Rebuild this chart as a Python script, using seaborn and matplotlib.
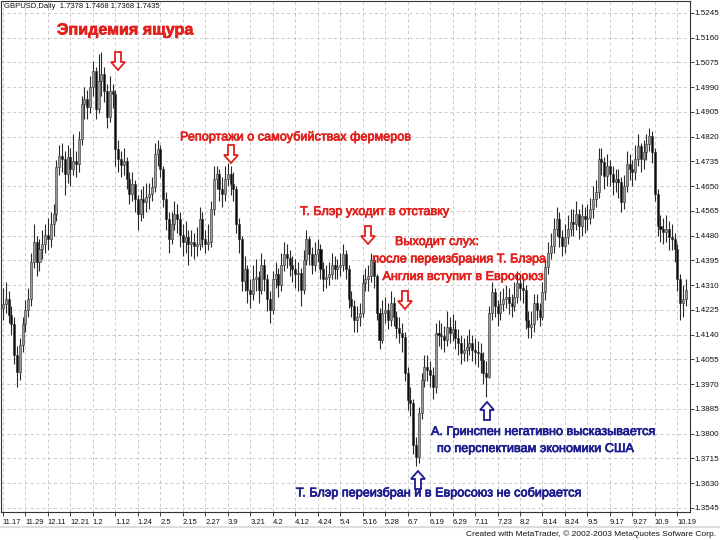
import matplotlib
matplotlib.use("Agg")
import matplotlib.pyplot as plt
from matplotlib.patches import Polygon
from matplotlib.lines import Line2D
import matplotlib.patheffects as pe
import numpy as np
import pandas as pd
import seaborn as sns

sns.set_theme(style="white")
plt.rcParams['font.family'] = ['Liberation Sans', 'DejaVu Sans']

# ---------------- data (prices in pips, /10000) ----------------
first_open = 14230
close_pips = [
    14244, 14261, 14209, 14175, 14071, 14013, 14106, 14175, 14226, 14261,
    14391, 14460, 14391, 14433, 14450, 14484, 14467, 14519, 14553, 14715,
    14753, 14742, 14691, 14749, 14708, 14736, 14725, 14811, 14932, 14949,
    14921, 14990, 15045, 14914, 15011, 15035, 14976, 14887, 14976, 14966,
    14777, 14742, 14722, 14736, 14674, 14622, 14656, 14605, 14553, 14605,
    14594, 14612, 14622, 14646, 14760, 14777, 14708, 14605, 14536, 14467,
    14519, 14553, 14536, 14484, 14460, 14474, 14450, 14457, 14443, 14453,
    14536, 14467, 14450, 14457, 14570, 14674, 14691, 14639, 14622, 14674,
    14691, 14656, 14639, 14519, 14467, 14323, 14364, 14295, 14278, 14330,
    14338, 14295, 14381, 14330, 14261, 14226, 14330, 14347, 14312, 14381,
    14416, 14405, 14381, 14364, 14347, 14352, 14295, 14398, 14467, 14416,
    14381, 14416, 14433, 14364, 14330, 14338, 14347, 14381, 14364, 14371,
    14381, 14416, 14364, 14261, 14237, 14192, 14199, 14216, 14319, 14330,
    14340, 14398, 14340, 14216, 14123, 14216, 14226, 14192, 14250, 14202,
    14164, 14147, 14133, 14010, 13917, 13906, 13762, 13721, 13872, 13985,
    14030, 14020, 14003, 13961, 14147, 14140, 14137, 14123, 14168, 14147,
    14158, 14130, 14113, 14078, 14089, 14099, 14113, 14089, 14082, 14078,
    14054, 14010, 13996, 14216, 14285, 14237, 14216, 14244, 14261, 14271,
    14250, 14237, 14271, 14319, 14302, 14295, 14192, 14168, 14175, 14250,
    14226, 14202, 14285, 14371, 14422, 14443, 14502, 14536, 14477, 14443,
    14474, 14502, 14526, 14520, 14553, 14512, 14546, 14536, 14540, 14570,
    14605, 14629, 14742, 14732, 14684, 14718, 14691, 14663, 14674, 14663,
    14594, 14650, 14725, 14708, 14698, 14742, 14787, 14742, 14767, 14794,
    14822, 14767, 14622, 14512, 14502, 14491, 14502, 14477, 14470, 14433,
    14330, 14250, 14261, 14295,
]
high_pips = [
    14300, 14320, 14290, 14240, 14200, 14100, 14130, 14200, 14260, 14300,
    14420, 14520, 14480, 14470, 14500, 14520, 14540, 14560, 14590, 14740,
    14790, 14800, 14770, 14790, 14780, 14830, 14770, 14840, 14960, 14990,
    14980, 15030, 15080, 15060, 15105, 15110, 15060, 15000, 15030, 15000,
    14980, 14810, 14770, 14780, 14750, 14700, 14700, 14670, 14620, 14640,
    14650, 14660, 14660, 14680, 14800, 14810, 14790, 14720, 14630, 14560,
    14560, 14600, 14590, 14560, 14520, 14530, 14500, 14500, 14490, 14510,
    14580, 14560, 14500, 14520, 14600, 14720, 14720, 14710, 14680, 14720,
    14730, 14720, 14700, 14650, 14540, 14480, 14410, 14380, 14330, 14380,
    14400, 14360, 14420, 14400, 14350, 14290, 14360, 14390, 14370, 14420,
    14460, 14450, 14430, 14410, 14400, 14390, 14370, 14430, 14500, 14480,
    14440, 14460, 14470, 14450, 14390, 14380, 14390, 14420, 14410, 14400,
    14420, 14450, 14430, 14380, 14290, 14260, 14240, 14250, 14350, 14370,
    14380, 14420, 14410, 14350, 14230, 14260, 14270, 14250, 14290, 14270,
    14220, 14200, 14180, 14150, 14030, 13960, 13920, 13790, 13890, 14010,
    14070, 14070, 14050, 14030, 14180, 14190, 14180, 14170, 14220, 14200,
    14210, 14190, 14160, 14140, 14130, 14140, 14160, 14140, 14130, 14120,
    14110, 14080, 14050, 14240, 14320, 14300, 14260, 14290, 14300, 14310,
    14300, 14280, 14320, 14360, 14350, 14340, 14310, 14220, 14220, 14280,
    14280, 14250, 14320, 14400, 14460, 14490, 14540, 14580, 14560, 14500,
    14520, 14550, 14570, 14570, 14600, 14570, 14590, 14580, 14590, 14610,
    14650, 14670, 14780, 14780, 14750, 14760, 14740, 14720, 14710, 14710,
    14680, 14690, 14770, 14760, 14740, 14790, 14830, 14800, 14810, 14830,
    14850, 14840, 14780, 14640, 14550, 14540, 14550, 14530, 14520, 14490,
    14450, 14350, 14310, 14330,
]
low_pips = [
    14190, 14215, 14180, 14140, 14040, 13960, 13985, 14080, 14150, 14200,
    14240, 14370, 14340, 14360, 14400, 14420, 14430, 14440, 14480, 14530,
    14690, 14700, 14620, 14660, 14650, 14690, 14680, 14700, 14790, 14880,
    14880, 14900, 14960, 14880, 14900, 14960, 14940, 14850, 14870, 14920,
    14720, 14700, 14680, 14690, 14640, 14590, 14600, 14560, 14500, 14530,
    14540, 14560, 14570, 14600, 14630, 14720, 14680, 14580, 14500, 14420,
    14450, 14500, 14490, 14440, 14410, 14420, 14380, 14410, 14400, 14410,
    14430, 14440, 14420, 14430, 14440, 14550, 14640, 14600, 14580, 14600,
    14650, 14620, 14600, 14490, 14420, 14290, 14290, 14250, 14230, 14260,
    14290, 14250, 14280, 14290, 14220, 14180, 14210, 14300, 14270, 14290,
    14360, 14370, 14340, 14320, 14300, 14290, 14240, 14280, 14380, 14380,
    14350, 14360, 14390, 14330, 14290, 14300, 14310, 14330, 14330, 14330,
    14340, 14360, 14330, 14230, 14200, 14150, 14150, 14170, 14200, 14290,
    14290, 14320, 14300, 14190, 14090, 14110, 14180, 14160, 14170, 14170,
    14130, 14110, 14080, 13980, 13880, 13860, 13730, 13690, 13700, 13850,
    13960, 13980, 13960, 13920, 13940, 14100, 14090, 14080, 14100, 14110,
    14120, 14090, 14070, 14040, 14050, 14050, 14070, 14050, 14040, 14030,
    14010, 13970, 13925, 13990, 14190, 14200, 14170, 14190, 14220, 14230,
    14210, 14200, 14220, 14250, 14260, 14250, 14160, 14130, 14130, 14150,
    14190, 14170, 14190, 14260, 14350, 14400, 14420, 14480, 14440, 14410,
    14420, 14450, 14480, 14480, 14500, 14470, 14480, 14490, 14500, 14520,
    14540, 14580, 14610, 14690, 14640, 14650, 14650, 14620, 14630, 14610,
    14560, 14570, 14630, 14670, 14650, 14670, 14720, 14700, 14710, 14740,
    14770, 14730, 14600, 14480, 14460, 14450, 14460, 14430, 14430, 14390,
    14290, 14190, 14200, 14240,
]
date_labels = ["11.17", "11.29", "12.11", "12.21", "1.2", "1.12", "1.24", "2.5",
               "2.15", "2.27", "3.9", "3.21", "4.2", "4.12", "4.24", "5.4",
               "5.16", "5.28", "6.7", "6.19", "6.29", "7.11", "7.23", "8.2",
               "8.14", "8.24", "9.5", "9.17", "9.27", "10.9", "10.19"]
price_ticks = [1.5245, 1.5160, 1.5075, 1.4990, 1.4905, 1.4820, 1.4735, 1.4650,
               1.4565, 1.4480, 1.4395, 1.4310, 1.4225, 1.4140, 1.4055, 1.3970,
               1.3885, 1.3800, 1.3715, 1.3630, 1.3545]

close = np.array(close_pips) / 10000.0
high = np.array(high_pips) / 10000.0
low = np.array(low_pips) / 10000.0
open_ = np.concatenate([[first_open / 10000.0], close[:-1]])
df = pd.DataFrame({"bar": np.arange(len(close)), "open": open_, "high": high,
                   "low": low, "close": close})
df["bull"] = df["close"] >= df["open"]

W, H = 720, 540
fig = plt.figure(figsize=(7.2, 5.4), dpi=100)
fig.patch.set_facecolor("white")
ax = fig.add_axes([1 / W, 1 - 512 / H, 689 / W, 511 / H])
ax.set_facecolor("white")

# wicks
ax.vlines(df["bar"], df["low"], df["high"], color="#2a2a2a", lw=0.8, zorder=3)
# bodies
bodies_bottom = np.minimum(df["open"], df["close"])
bodies_h = np.maximum(np.abs(df["close"] - df["open"]), 0.00025)
colors = np.where(df["bull"], "#9a9a9a", "#0a0a0a")
ax.bar(df["bar"], bodies_h, bottom=bodies_bottom, width=0.72, color=colors,
       edgecolor="#303030", linewidth=0.4, zorder=4)

ax.set_xlim(-0.7, 244.5)
ax.set_ylim(1.3531, 1.5286)
ax.set_xticks(np.arange(0, 8 * len(date_labels), 8))
ax.set_xticklabels(date_labels, fontsize=5.5)
for lbl in ax.get_xticklabels():
    lbl.set_ha("left")
ax.set_yticks(price_ticks)
ax.set_yticklabels([f"{p:.4f}" for p in price_ticks], fontsize=5.8)
ax.yaxis.tick_right()
ax.tick_params(axis="both", which="major", length=3, width=0.6, color="#222222",
               direction="out", labelcolor="#111111")
ax.tick_params(axis="x", bottom=True, pad=2)
ax.tick_params(axis="y", right=True, pad=0.5)
ax.grid(True, ls=(0, (3, 3)), color="#c8c8c8", lw=0.7, zorder=0)
for s in ax.spines.values():
    s.set_color("#333333")
    s.set_linewidth(0.8)


def ftext(x, y, s, color, size=9.1, **kw):
    t = fig.text(x / W, 1 - y / H, s, va="center", color=color, fontsize=size, **kw)
    t.set_path_effects([pe.withStroke(linewidth=0.5, foreground=color)])
    return t


def block_arrow(xc, ytop, down=True, color="red"):
    hw, sw, hh, tot = 7, 3, 8, 18
    if down:
        pts = [(xc - sw, ytop), (xc + sw, ytop), (xc + sw, ytop + tot - hh),
               (xc + hw, ytop + tot - hh), (xc, ytop + tot),
               (xc - hw, ytop + tot - hh), (xc - sw, ytop + tot - hh)]
    else:
        yb = ytop + tot
        pts = [(xc - sw, yb), (xc + sw, yb), (xc + sw, ytop + hh),
               (xc + hw, ytop + hh), (xc, ytop),
               (xc - hw, ytop + hh), (xc - sw, ytop + hh)]
    pts = [(px / W, 1 - py / H) for px, py in pts]
    fig.add_artist(Polygon(pts, closed=True, facecolor="white", edgecolor=color,
                           lw=1.3, transform=fig.transFigure, zorder=10))


RED = "#e2201c"
BLUE = "#1c1c8e"

fig.text(4 / W, 1 - 7 / H, "GBPUSD,Daily  1.7378 1.7468 1.7368 1.7435", fontsize=5.5,
         color="#111111", va="center")
ftext(57, 30, "Эпидемия ящура", RED, size=11.6, fontweight="bold")
block_arrow(118, 52, True, RED)
ftext(180, 137, "Репортажи о самоубийствах фермеров", RED)
block_arrow(231, 145, True, RED)
ftext(300, 212, "Т. Блэр уходит в отставку", RED)
block_arrow(368, 226, True, RED)
ftext(437, 242, "Выходит слух:", RED, ha="center")
ftext(459, 259, "после переизбрания Т. Блэра", RED, ha="center")
ftext(463, 277, "Англия вступит в Евросоюз", RED, ha="center")
block_arrow(405, 291, True, RED)
block_arrow(487, 402, False, BLUE)
ftext(431, 432, "А. Гринспен негативно высказывается", BLUE)
ftext(437, 449, "по перспективам экономики США", BLUE)
block_arrow(418, 471, False, BLUE)
ftext(296, 493, "Т. Блэр переизбран и в Евросоюз не собирается", BLUE)

fig.add_artist(Line2D([0, 1], [1 - 527 / H, 1 - 527 / H], color="#dddddd", lw=1.5,
                      transform=fig.transFigure))
fig.text(716 / W, 1 - 534 / H, "Created with MetaTrader, © 2002-2003 MetaQuotes Sofware Corp.",
         fontsize=6, ha="right", va="center", color="#111111")

fig.savefig("out.png", dpi=100, facecolor="white")
